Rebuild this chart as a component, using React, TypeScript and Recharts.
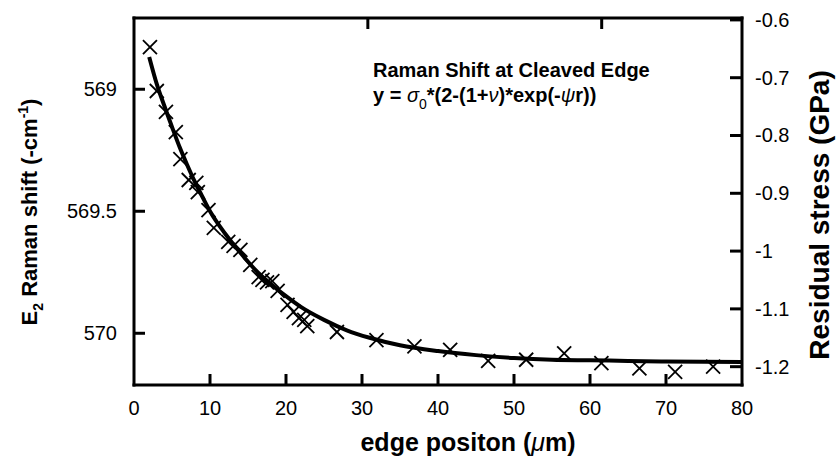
import React from "react";
import { ComposedChart, Line, Scatter, XAxis, YAxis } from "recharts";

// Fitted curve: edge position (µm) vs residual stress (GPa)
const curveX = [2, 3, 4, 5, 6, 7, 8, 9, 10, 12, 14, 16, 18, 20, 22, 25, 28, 31, 35, 40, 45, 50, 55, 60, 65, 70, 80];
const curveStress = [
  -0.664, -0.711, -0.749, -0.785, -0.82, -0.851, -0.88, -0.906, -0.931, -0.97, -1.003, -1.033, -1.057,
  -1.078, -1.097, -1.119, -1.137, -1.15, -1.163, -1.173, -1.18, -1.185, -1.188, -1.189, -1.19, -1.191, -1.192,
];

// Measured points
const pointX = [
  2.1, 3.0, 4.2, 5.5, 6.1, 7.2, 8.2, 8.4, 9.8, 10.5, 12.4, 13.1, 14.0, 15.3, 16.4, 16.9, 17.5, 18.2, 18.9,
  20.2, 21.0, 21.7, 22.4, 22.8, 26.7, 31.9, 36.9, 41.6, 46.6, 51.6, 56.6, 61.5, 66.5, 71.2, 76.2,
];
const pointStress = [
  -0.647, -0.723, -0.759, -0.794, -0.841, -0.877, -0.882, -0.898, -0.929, -0.96, -0.984, -0.991, -0.998,
  -1.024, -1.045, -1.05, -1.054, -1.052, -1.069, -1.093, -1.105, -1.116, -1.119, -1.13, -1.14, -1.154,
  -1.165, -1.171, -1.19, -1.188, -1.177, -1.194, -1.203, -1.209, -1.2,
];

const xTicks = [0, 10, 20, 30, 40, 50, 60, 70, 80];
const ramanTicks = [569, 569.5, 570];
const stressTicks = [-0.6, -0.7, -0.8, -0.9, -1, -1.1, -1.2];

const curve = curveX.map((x, i) => ({ x, s: curveStress[i] }));
const points = pointX.map((x, i) => ({ x, s: pointStress[i] }));

const FONT = "'Liberation Sans', Arial, Helvetica, sans-serif";

const BottomTick = (p: any) => {
  const v = p.payload.value;
  return (
    <g>
      {v !== 0 && v !== 80 && <line x1={p.x} x2={p.x} y1={p.y} y2={p.y - 11} stroke="#000" strokeWidth={3} />}
      <text x={p.x} y={p.y + 30} textAnchor="middle" fontFamily={FONT} fontSize={20} fill="#000">
        {v}
      </text>
    </g>
  );
};

const TopTick = (p: any) => {
  const v = p.payload.value;
  if (v === 0 || v === 80) return <g />;
  return <line x1={p.x} x2={p.x} y1={p.y} y2={p.y + 11} stroke="#000" strokeWidth={3} />;
};

const LeftTick = (p: any) => (
  <g>
    <line x1={p.x} x2={p.x + 11} y1={p.y} y2={p.y} stroke="#000" strokeWidth={3} />
    <text x={p.x - 17} y={p.y + 7} textAnchor="end" fontFamily={FONT} fontSize={20} fill="#000">
      {p.payload.value}
    </text>
  </g>
);

const RightTick = (p: any) => (
  <g>
    <line x1={p.x} x2={p.x - 12} y1={p.y} y2={p.y} stroke="#000" strokeWidth={3} />
    <text x={p.x + 13} y={p.y + 7} textAnchor="start" fontFamily={FONT} fontSize={20} fill="#000">
      {p.payload.value}
    </text>
  </g>
);

const Cross = (p: any) => {
  const { cx, cy } = p;
  const r = 7;
  return (
    <g>
      <line x1={cx - r} y1={cy - r} x2={cx + r} y2={cy + r} stroke="#000" strokeWidth={1.8} />
      <line x1={cx - r} y1={cy + r} x2={cx + r} y2={cy - r} stroke="#000" strokeWidth={1.8} />
    </g>
  );
};

const axisLine = { stroke: "#000", strokeWidth: 3, strokeLinecap: "square" as const };

export default function App() {
  return (
    <div style={{ position: "absolute", left: 0, top: 0, background: "#fff" }}>
      <ComposedChart width={836} height={466} data={curve} margin={{ top: 17, right: 93, bottom: 80, left: 133 }}>
        <XAxis
          xAxisId="b"
          dataKey="x"
          type="number"
          domain={[0, 80]}
          ticks={xTicks}
          orientation="bottom"
          height={1}
          tickSize={0}
          tickMargin={0}
          tickLine={false}
          axisLine={axisLine}
          tick={<BottomTick />}
          allowDataOverflow
        />
        <XAxis
          xAxisId="t"
          type="number"
          domain={[0, 80]}
          ticks={xTicks}
          orientation="top"
          height={1}
          tickSize={0}
          tickMargin={0}
          tickLine={false}
          axisLine={axisLine}
          tick={<TopTick />}
          allowDataOverflow
        />
        <YAxis
          yAxisId="r"
          type="number"
          orientation="left"
          domain={[568.708, 570.212]}
          reversed
          ticks={ramanTicks}
          width={1}
          tickSize={0}
          tickMargin={0}
          tickLine={false}
          axisLine={axisLine}
          tick={<LeftTick />}
          allowDataOverflow
        />
        <YAxis
          yAxisId="s"
          dataKey="s"
          type="number"
          orientation="right"
          domain={[-1.2317, -0.5967]}
          ticks={stressTicks}
          width={1}
          tickSize={0}
          tickMargin={0}
          tickLine={false}
          axisLine={axisLine}
          tick={<RightTick />}
          allowDataOverflow
        />
        <Line
          xAxisId="b"
          yAxisId="s"
          data={curve}
          dataKey="s"
          type="monotone"
          stroke="#000"
          strokeWidth={4}
          dot={false}
          isAnimationActive={false}
        />
        <Scatter
          xAxisId="b"
          yAxisId="s"
          data={points}
          dataKey="s"
          shape={<Cross />}
          isAnimationActive={false}
        />
        <text x={373} y={77} fontFamily={FONT} fontSize={20} fontWeight="bold" fill="#000">
          Raman Shift at Cleaved Edge
        </text>
        <text x={373} y={102} fontFamily={FONT} fontSize={20} fontWeight="bold" fill="#000">
          <tspan>y = </tspan>
          <tspan fontStyle="italic" fontWeight="normal">σ</tspan>
          <tspan fontSize={14} fontWeight="normal" dy={7}>0</tspan>
          <tspan dy={-7}>*(2-(1+</tspan>
          <tspan fontStyle="italic" fontWeight="normal">ν</tspan>
          <tspan>)*exp(-</tspan>
          <tspan fontStyle="italic" fontWeight="normal">ψ</tspan>
          <tspan>r))</tspan>
        </text>
        <text x={468} y={451} textAnchor="middle" fontFamily={FONT} fontSize={25} fontWeight="bold" fill="#000">
          edge positon (<tspan fontWeight="normal" fontStyle="italic">μ</tspan>m)
        </text>
        <text
          transform="translate(37,212) rotate(-90)"
          textAnchor="middle"
          fontFamily={FONT}
          fontSize={22}
          fontWeight="bold"
          fill="#000"
        >
          <tspan>E</tspan>
          <tspan fontSize={14} dy={6}>2</tspan>
          <tspan dy={-6}> Raman shift (-cm</tspan>
          <tspan fontSize={14} dy={-9}>-1</tspan>
          <tspan dy={9}>)</tspan>
        </text>
        <text
          transform="translate(829,215) rotate(-90)"
          textAnchor="middle"
          fontFamily={FONT}
          fontSize={28}
          fontWeight="bold"
          fill="#000"
        >
          Residual stress (GPa)
        </text>
      </ComposedChart>
    </div>
  );
}
